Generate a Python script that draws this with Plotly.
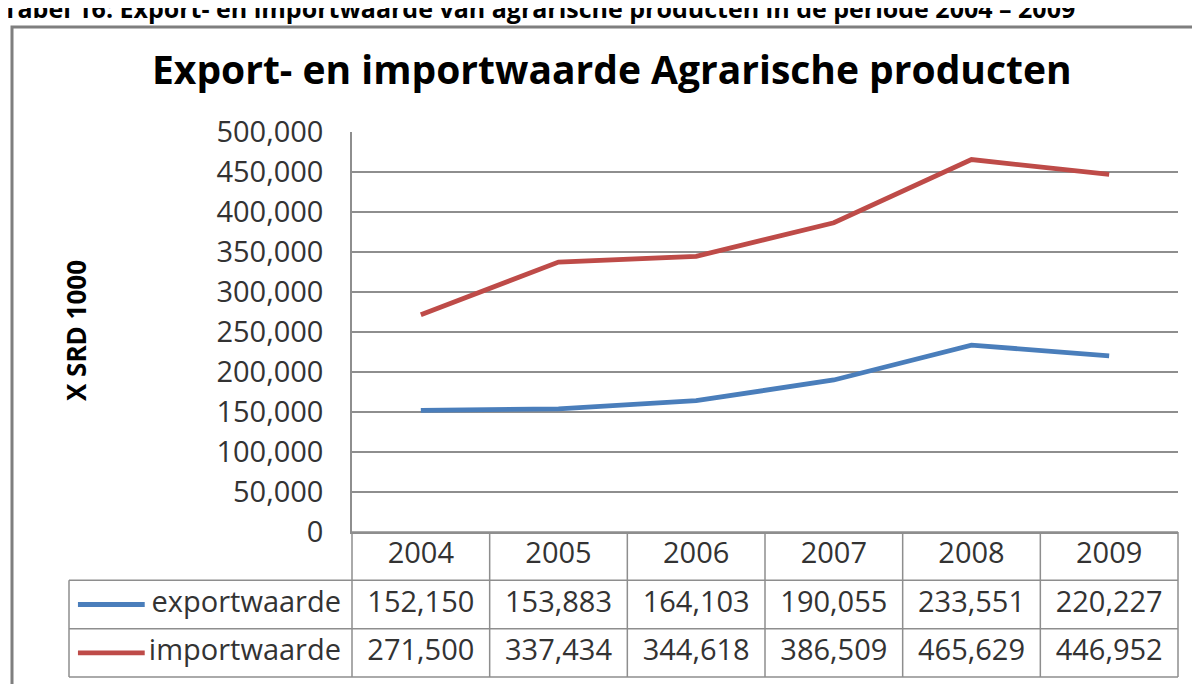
import plotly.graph_objects as go

# ---------------- data ----------------
years = ["2004", "2005", "2006", "2007", "2008", "2009"]
export_vals = [152150, 153883, 164103, 190055, 233551, 220227]
import_vals = [271500, 337434, 344618, 386509, 465629, 446952]
series_names = ["exportwaarde", "importwaarde"]
series_colors = ["#4a7ebb", "#be4b48"]
y_ticks = [0, 50000, 100000, 150000, 200000, 250000, 300000, 350000, 400000, 450000, 500000]
title_text = "Export- en importwaarde Agrarische producten"
caption_text = "Tabel 16: Export- en importwaarde van agrarische producten in de periode 2004 \u2013 2009"
y_title_text = "X SRD 1000"

# ---------------- layout geometry (screen pixels) ----------------
OFF = 8                                   # page body margin
FW, FH = 1200 - OFF, 684 - OFF            # figure size so it fits the window
PL, PR, PT, PB = 352, 1178, 132, 532      # plot area (screen px)
TL, TB = 69, 677                          # table left / bottom (screen px)
PAD = 4                                   # px padding so table lines are not clipped

def px(x):
    return (x - OFF) / FW

def py(y):
    return 1 - (y - OFF) / FH

FONT = "Open Sans"
TXT = "#333333"
GRID = "#8e8e8e"

n = len(years)
col_w = (PR - PL) / n                     # px per category
legend_w = (PL - TL) / col_w              # legend column width in category units
row_h = (TB - PB) / 3                     # px per table row

x2_min = -0.5 - legend_w
x2_max = n - 0.5
padx = PAD / col_w
pady = PAD / row_h

fig = go.Figure()

all_series = [export_vals, import_vals]

# main lines
for name, vals, col in zip(series_names, all_series, series_colors):
    fig.add_trace(go.Scatter(
        x=years, y=vals, mode="lines", name=name,
        line=dict(color=col, width=4.8),
        xaxis="x", yaxis="y", showlegend=False, hoverinfo="x+y+name"))

# table header (years)
fig.add_trace(go.Scatter(
    x=list(range(n)), y=[0.5] * n, mode="text", text=years,
    textfont=dict(family=FONT, size=29, color=TXT),
    xaxis="x2", yaxis="y2", showlegend=False, hoverinfo="skip"))

# table rows
for r, (name, vals, col) in enumerate(zip(series_names, all_series, series_colors)):
    yrow = 1.5 + r
    fig.add_trace(go.Scatter(
        x=list(range(n)), y=[yrow] * n, mode="text",
        text=[f"{v:,}" for v in vals],
        textfont=dict(family=FONT, size=29, color=TXT),
        xaxis="x2", yaxis="y2", showlegend=False, hoverinfo="skip"))
    # legend key line
    fig.add_trace(go.Scatter(
        x=[x2_min + 0.065, x2_min + 0.55], y=[yrow, yrow], mode="lines",
        line=dict(color=col, width=4.8),
        xaxis="x2", yaxis="y2", showlegend=False, hoverinfo="skip"))
    # series name
    fig.add_trace(go.Scatter(
        x=[-0.5 - 0.08], y=[yrow], mode="text", text=[name],
        textposition="middle left",
        textfont=dict(family=FONT, size=29, color=TXT),
        xaxis="x2", yaxis="y2", showlegend=False, hoverinfo="skip"))

# table grid shapes
shapes = []
lw = 1.5
for yv in [1, 2, 3]:
    shapes.append(dict(type="line", xref="x2", yref="y2", x0=x2_min, x1=x2_max, y0=yv, y1=yv,
                       line=dict(color=GRID, width=lw)))
shapes.append(dict(type="line", xref="x2", yref="y2", x0=-0.5, x1=x2_max, y0=0, y1=0,
                   line=dict(color=GRID, width=lw)))
for i in range(n + 1):
    xv = -0.5 + i
    shapes.append(dict(type="line", xref="x2", yref="y2", x0=xv, x1=xv, y0=0, y1=3,
                       line=dict(color=GRID, width=lw)))
shapes.append(dict(type="line", xref="x2", yref="y2", x0=x2_min, x1=x2_min, y0=1, y1=3,
                   line=dict(color=GRID, width=lw)))

# outer chart border
shapes.append(dict(type="rect", xref="paper", yref="paper",
                   x0=px(12), x1=1.2, y0=-0.2, y1=py(27),
                   line=dict(color="#7f7f7f", width=3), fillcolor="rgba(0,0,0,0)"))

annotations = [
    dict(text=caption_text, xref="paper", yref="paper", x=px(1), y=py(8),
         xanchor="left", yanchor="middle", showarrow=False,
         font=dict(family=FONT, size=25, color="#000000", weight="bold")),
    dict(text=title_text, xref="paper", yref="paper", x=px(612), y=py(68),
         xanchor="center", yanchor="middle", showarrow=False,
         font=dict(family=FONT, size=39, color="#000000", weight="bold")),
    dict(text=y_title_text, xref="paper", yref="paper", x=px(76), y=py(331),
         xanchor="center", yanchor="middle", showarrow=False, textangle=-90,
         font=dict(family=FONT, size=26, color="#000000", weight="bold")),
]

fig.update_layout(
    width=FW, height=FH,
    margin=dict(l=0, r=0, t=0, b=0, pad=0, autoexpand=False),
    paper_bgcolor="white", plot_bgcolor="rgba(0,0,0,0)",
    showlegend=False,
    shapes=shapes,
    annotations=annotations,
    xaxis=dict(domain=[px(PL), px(PR)], type="category", range=[-0.5, n - 0.5],
               showticklabels=False, showgrid=False, zeroline=False,
               showline=True, linecolor=GRID, linewidth=lw, ticks="", fixedrange=True),
    yaxis=dict(domain=[py(PB), py(PT)], range=[0, 500000], tickvals=y_ticks,
               ticktext=[f"{v:,}" for v in y_ticks],
               showgrid=True, gridcolor=GRID, gridwidth=lw, zeroline=False,
               showline=True, linecolor=GRID, linewidth=lw, ticks="",
               ticklabelstandoff=21, automargin=False,
               tickfont=dict(family=FONT, size=29, color=TXT), fixedrange=True),
    xaxis2=dict(domain=[px(TL - PAD), px(PR + PAD)], range=[x2_min - padx, x2_max + padx],
                visible=False, fixedrange=True, anchor="y2"),
    yaxis2=dict(domain=[py(TB + PAD), py(PB - PAD)], range=[3 + pady, 0 - pady],
                visible=False, fixedrange=True, anchor="x2"),
)

fig.write_html("out.html", config={"responsive": False, "displayModeBar": False})
